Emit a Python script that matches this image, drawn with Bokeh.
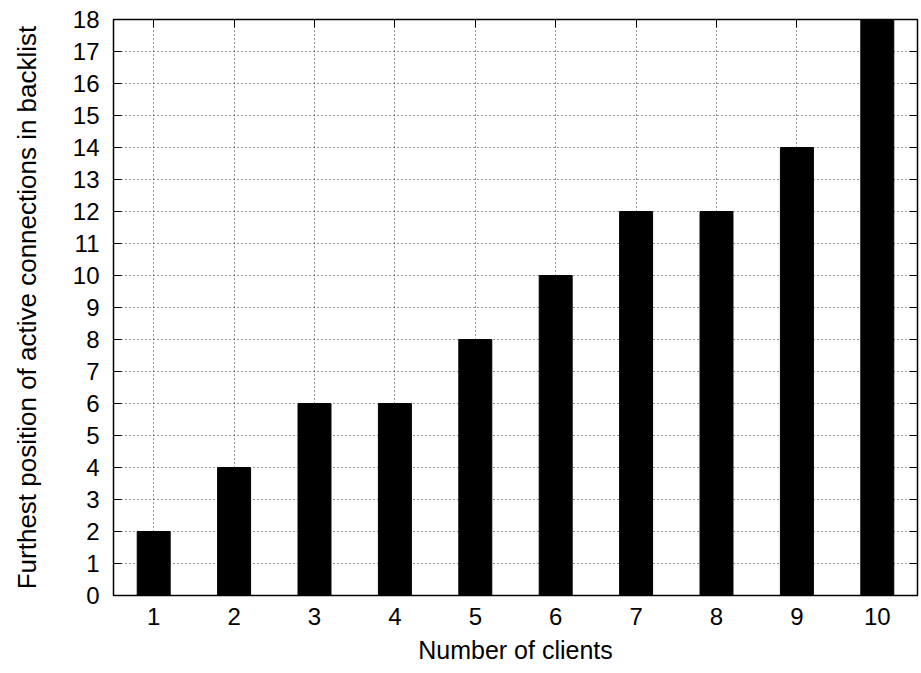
from bokeh.plotting import figure
from bokeh.models import LinearAxis, Range1d, FixedTicker, CustomLabelingPolicy
from bokeh.embed import file_html
from bokeh.resources import INLINE

clients = [1, 2, 3, 4, 5, 6, 7, 8, 9, 10]
positions = [2, 4, 6, 6, 8, 10, 12, 12, 14, 18]
x_ticks = list(range(1, 11))
y_ticks = list(range(0, 19))

FONT = "Liberation Sans"

p = figure(width=921, height=673, output_backend="svg", toolbar_location=None,
           x_range=Range1d(0.5, 10.5), y_range=Range1d(0, 18),
           min_border_left=113, min_border_right=1, min_border_top=19, min_border_bottom=78)

p.vbar(x=clients, top=positions, width=0.41, bottom=0, color="black")

p.outline_line_color = "black"
p.outline_line_width = 1.5

for ax in (p.xaxis[0], p.yaxis[0]):
    ax.major_tick_in = 8
    ax.major_tick_out = 0
    ax.minor_tick_line_color = None
    ax.axis_line_color = "black"
    ax.major_label_text_font = FONT
    ax.major_label_text_font_size = "24px"
    ax.major_label_text_color = "black"
    ax.axis_label_text_font = FONT
    ax.axis_label_text_font_style = "normal"
    ax.axis_label_text_color = "black"

p.xaxis.axis_label_text_font_size = "25px"
p.yaxis.axis_label_text_font_size = "26px"
p.xaxis.ticker = FixedTicker(ticks=x_ticks)
p.yaxis.ticker = FixedTicker(ticks=y_ticks)
p.xaxis.axis_label = "Number of clients"
p.yaxis.axis_label = "Furthest position of active connections in backlist"
p.xaxis.major_label_standoff = 12
p.yaxis.major_label_standoff = 14
p.xaxis.axis_label_standoff = 8
p.yaxis.axis_label_standoff = 28

hide = CustomLabelingPolicy(code="""
const n = indices.size;
for (let i = 0; i < n; i++) { indices.unset(i) }
return indices
""")

# mirror axes (ticks only)
ra = LinearAxis(ticker=FixedTicker(ticks=y_ticks))
ta = LinearAxis(ticker=FixedTicker(ticks=x_ticks))
for ax in (ra, ta):
    ax.major_tick_in = 8
    ax.major_tick_out = 0
    ax.minor_tick_line_color = None
    ax.major_label_text_font_size = "1px"
    ax.major_label_standoff = 0
    ax.major_label_policy = hide
    ax.axis_line_color = "black"
p.add_layout(ra, "right")
p.add_layout(ta, "above")

p.xgrid.ticker = FixedTicker(ticks=x_ticks)
p.ygrid.ticker = FixedTicker(ticks=y_ticks)
p.grid.grid_line_color = "black"
p.grid.grid_line_dash = "1 3"
p.grid.grid_line_width = 1
p.grid.grid_line_alpha = 0.8

open("out.html", "w").write(file_html(p, INLINE))
